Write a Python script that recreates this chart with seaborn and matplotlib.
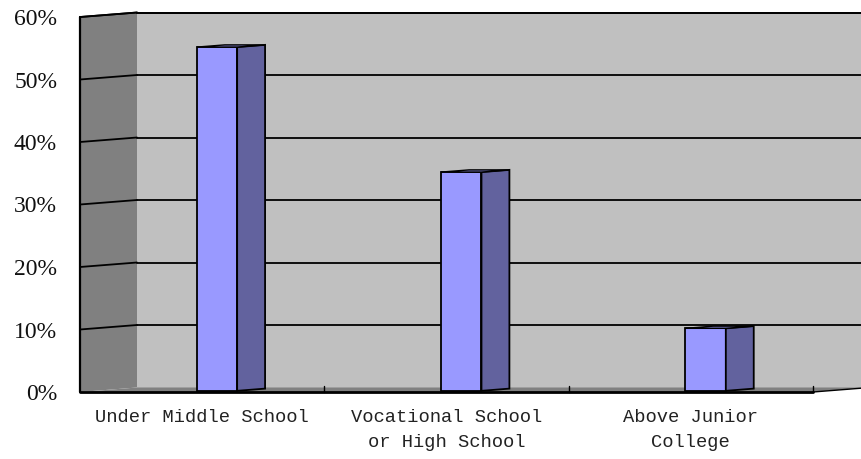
import matplotlib
matplotlib.use("Agg")
import matplotlib.pyplot as plt
import seaborn as sns
from matplotlib.patches import Polygon
from matplotlib.lines import Line2D
from matplotlib.transforms import IdentityTransform, ScaledTranslation

# chart data
categories = ["Under Middle School", "Vocational School\nor High School", "Above Junior\nCollege"]
shares = [0.55, 0.35, 0.10]
y_ticks = [0, 0.1, 0.2, 0.3, 0.4, 0.5, 0.6]
y_tick_labels = ["0%", "10%", "20%", "30%", "40%", "50%", "60%"]

W, H = 862, 459
DX, DY = 57, 4.5          # depth of the fake 3D box, in pixels
BAR_T0, BAR_T1 = 0.26, 0.75  # depth of bar front / back face

sns.set_style("white")
fig = plt.figure(figsize=(W / 100, H / 100), dpi=100)
ax = fig.add_axes([80 / W, (H - 392) / H, (813 - 80) / W, (392 - 17) / H])

sns.barplot(x=categories, y=shares, color="#9999FF", saturation=1, width=0.165,
            edgecolor="black", linewidth=1.3, ax=ax, zorder=5)
bars = list(ax.patches)
ax.set_xlim(-0.5, 2.5)
ax.set_ylim(0, 0.6)
ax.set_autoscale_on(False)
ax.patch.set_visible(False)
for s in ax.spines.values():
    s.set_visible(False)


def px(x, y, t):
    p = ax.transData.transform((x, y))
    return (p[0] + t * DX, p[1] + t * DY)


def poly(pts, color, z, ec="none", lw=0):
    ax.add_patch(Polygon(pts, closed=True, facecolor=color, edgecolor=ec, linewidth=lw,
                         transform=IdentityTransform(), clip_on=False, zorder=z))


def line(p, q, z, lw=1.3, color="black"):
    ax.add_line(Line2D([p[0], q[0]], [p[1], q[1]], color=color, linewidth=lw,
                       transform=IdentityTransform(), clip_on=False, zorder=z))


x0, x1 = -0.5, 2.5
# back wall, left wall, floor
poly([px(x0, 0, 1), px(x1, 0, 1), px(x1, 0.6, 1), px(x0, 0.6, 1)], "#C0C0C0", 0)
poly([px(x0, 0, 0), px(x0, 0.6, 0), px(x0, 0.6, 1), px(x0, 0, 1)], "#808080", 0)
for v in y_ticks[1:]:
    line(px(x0, v, 1), px(x1, v, 1), 1)
    line(px(x0, v, 0), px(x0, v, 1), 1)
poly([px(x0, 0, 0), px(x1, 0, 0), px(x1, 0, 1), px(x0, 0, 1)], "#808080", 2)
line(px(x0, 0, 0), px(x1, 0, 0), 3, lw=2)
line(px(x1, 0, 0), px(x1, 0, 1), 3, lw=1)
line(px(x0, 0, 0), px(x0, 0.6, 0), 3, lw=1.6)
line(px(x0, 0.6, 0), px(x0, 0.6, 1), 3, lw=1.3)
line(px(x0, 0.6, 1), px(x1, 0.6, 1), 3, lw=1.3)
for xt in [0.5, 1.5, 2.5]:
    a = px(xt, 0, 0)
    line(a, (a[0], a[1] + 6), 3, lw=1)

# bars: shift front face into depth, then add side and top faces
shift = ScaledTranslation(BAR_T0 * DX / 100, BAR_T0 * DY / 100, fig.dpi_scale_trans)
for b in bars:
    b.set_transform(ax.transData + shift)
    bx0, bx1, h = b.get_x(), b.get_x() + b.get_width(), b.get_height()
    poly([px(bx1, 0, BAR_T0), px(bx1, h, BAR_T0), px(bx1, h, BAR_T1), px(bx1, 0, BAR_T1)],
         "#62629E", 6, ec="black", lw=1.3)
    poly([px(bx0, h, BAR_T0), px(bx1, h, BAR_T0), px(bx1, h, BAR_T1), px(bx0, h, BAR_T1)],
         "#7A7AC0", 6, ec="black", lw=1.0)

ax.set_yticks(y_ticks, y_tick_labels)
ax.tick_params(axis="y", length=0, pad=16.5, labelsize=17)
for lbl in ax.get_yticklabels():
    lbl.set_fontfamily("Liberation Serif")
    lbl.set_color("#111111")
ax.set_xticks([0, 1, 2], categories)
ax.tick_params(axis="x", length=0, pad=12, labelsize=13.5)
for lbl in ax.get_xticklabels():
    lbl.set_fontfamily("Liberation Mono")
    lbl.set_linespacing(1.62)
    lbl.set_color("#222222")

fig.savefig("out.png", dpi=100, facecolor="white")
